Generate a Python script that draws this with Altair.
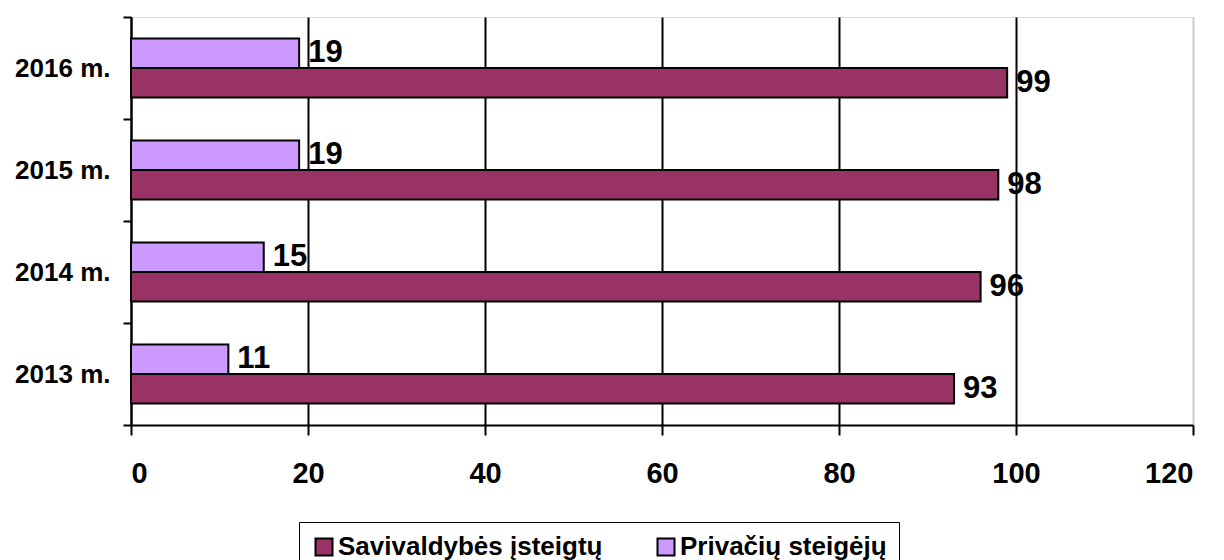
import altair as alt
import pandas as pd

years = ["2013 m.", "2014 m.", "2015 m.", "2016 m."]
savivaldybes = [93, 96, 98, 99]
privaciu = [11, 15, 19, 19]
series = ["Savivaldybės įsteigtų", "Privačių steigėjų"]
colors = ["#993366", "#CC99FF"]
x_ticks = [0, 20, 40, 60, 80, 100, 120]

rows = []
for i, yr in enumerate(years):
    rows.append({"year": yr, "series": series[0], "value": savivaldybes[i]})
    rows.append({"year": yr, "series": series[1], "value": privaciu[i]})
df = pd.DataFrame(rows)

FONT = "Liberation Sans"

y_enc = alt.Y(
    "year:N",
    sort=years[::-1],
    scale=alt.Scale(paddingInner=0, paddingOuter=0),
    axis=alt.Axis(
        title=None, tickBand="extent", labelFont=FONT, labelFontSize=26,
        labelFontWeight="bold", labelColor="black", labelPadding=13,
        tickSize=8, tickWidth=2, tickColor="black", domainColor="black",
        domainWidth=2, grid=False,
    ),
)
yoff = alt.YOffset(
    "series:N",
    sort=[series[1], series[0]],
    scale=alt.Scale(paddingInner=0, paddingOuter=0.729),
)
x_enc = alt.X(
    "value:Q",
    scale=alt.Scale(domain=[0, 120], nice=False),
    axis=alt.Axis(
        values=x_ticks, title=None, labelFont=FONT, labelFontSize=29,
        labelFontWeight="bold", labelColor="black", labelPadding=24,
        tickSize=10, tickWidth=2, tickColor="black", domainColor="black",
        domainWidth=2, grid=True, gridWidth=2,
        gridColor={"condition": {"test": "datum.value == 120", "value": "#cccccc"}, "value": "black"},
    ),
)
color_enc = alt.Color(
    "series:N",
    scale=alt.Scale(domain=series, range=colors),
    legend=alt.Legend(
        orient="none", legendX=168, legendY=505, direction="horizontal",
        title=None, symbolType="square", symbolSize=289,
        symbolStrokeColor="black", symbolStrokeWidth=2, symbolOpacity=1,
        labelFont=FONT, labelFontSize=26, labelFontWeight="bold",
        labelColor="black", strokeColor="black", fillColor="white",
        padding=12, columnPadding=50, labelOffset=1, labelLimit=0,
    ),
)

base = alt.Chart(df)
bars = base.mark_bar(stroke="black", strokeWidth=2, opacity=1).encode(
    x=x_enc, y=y_enc, yOffset=yoff, color=color_enc
)
labels = base.mark_text(
    align="left", baseline="middle", dx=9, font=FONT, fontSize=31,
    fontWeight="bold", color="black",
).encode(
    x=alt.X("value:Q"),
    y=alt.Y("year:N", sort=years[::-1]),
    yOffset=alt.YOffset("series:N", sort=[series[1], series[0]]),
    text=alt.Text("value:Q"),
)

chart = alt.layer(bars, labels).properties(
    width=1062, height=408,
    padding={"left": 123, "top": 9, "right": 23, "bottom": 135},
    autosize=alt.AutoSizeParams(type="none"),
).configure_view(stroke=None).configure(background="white")

chart.save("out.html", embed_options={"renderer": "svg", "actions": False})
